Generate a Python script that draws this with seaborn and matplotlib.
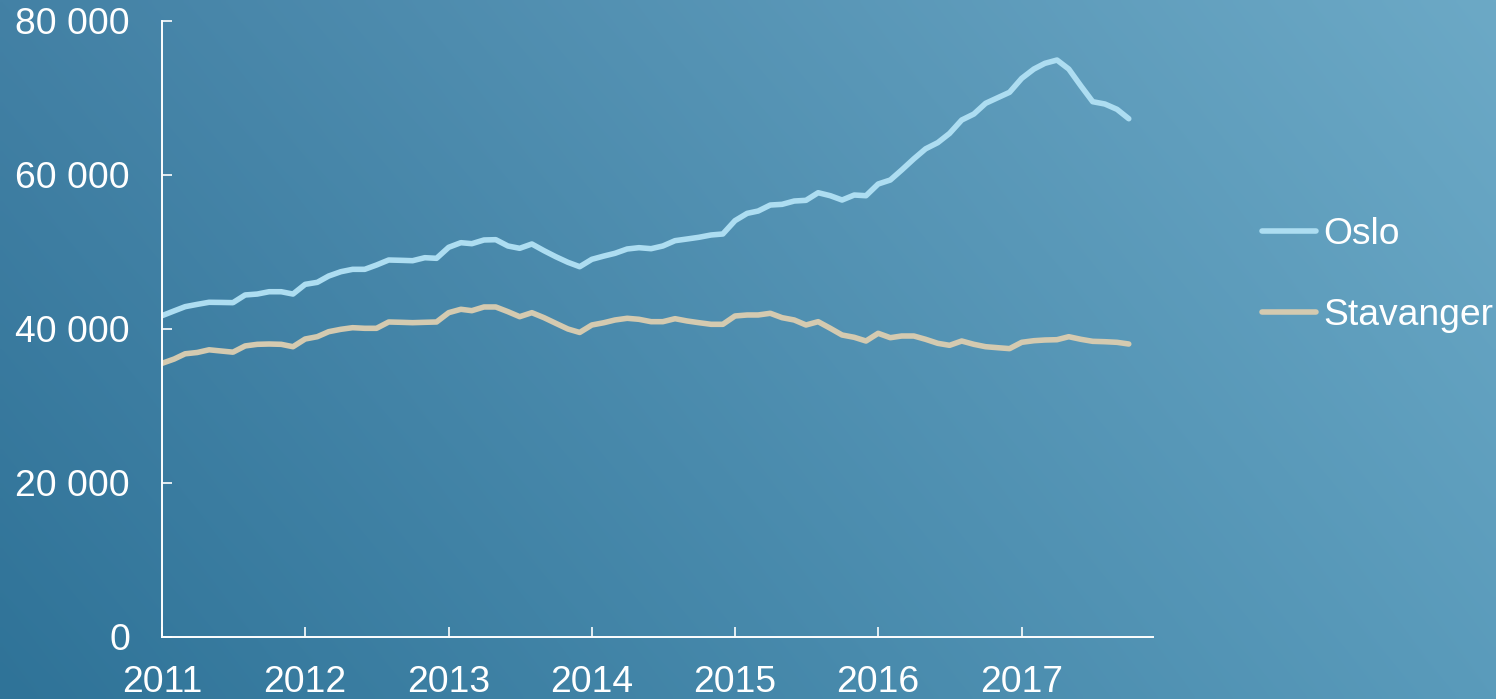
import numpy as np
import pandas as pd
import matplotlib
matplotlib.use("Agg")
import matplotlib.pyplot as plt
import seaborn as sns
from matplotlib.lines import Line2D

# ---- data (monthly, Jan 2011 - Oct 2017) ----
months = pd.date_range("2011-01-01", periods=82, freq="MS")
oslo = [41730, 42350, 42900, 43200, 43470, 43450, 43420, 44420, 44540, 44840, 44840, 44540,
        45800, 46060, 46880, 47440, 47750, 47750, 48310, 48960, 48920, 48870, 49260, 49180,
        50610, 51210, 51080, 51560, 51600, 50780, 50480, 51040, 50170, 49390, 48660, 48090,
        49050, 49480, 49830, 50390, 50560, 50430, 50780, 51470, 51690, 51910, 52210, 52340,
        54070, 55020, 55320, 56100, 56190, 56620, 56710, 57700, 57310, 56750, 57400, 57310,
        58830, 59350, 60650, 62100, 63400, 64200, 65400, 67140, 67920, 69310, 70040, 70740,
        72550, 73760, 74500, 74930, 73760, 71560, 69520, 69220, 68530, 67310]
stavanger = [35540, 36100, 36780, 36950, 37300, 37140, 36990, 37800, 38010, 38050, 38010, 37700,
             38700, 39000, 39650, 39960, 40170, 40090, 40090, 40910, 40870, 40820, 40870, 40910,
             42120, 42560, 42380, 42860, 42860, 42250, 41600, 42120, 41470, 40740, 40000, 39550,
             40520, 40820, 41170, 41390, 41260, 40950, 40950, 41340, 41040, 40820, 40610, 40610,
             41690, 41820, 41820, 42040, 41470, 41170, 40520, 40950, 40090, 39220, 38920, 38440,
             39440, 38870, 39090, 39090, 38660, 38140, 37880, 38440, 38010, 37700, 37570, 37450,
             38270, 38480, 38570, 38610, 39000, 38660, 38400, 38350, 38270, 38050]
series_names = ["Oslo", "Stavanger"]
series_colors = ["#ADDDF1", "#D4CAB0"]
year_ticks = list(range(2011, 2018))
y_ticks = [0, 20000, 40000, 60000, 80000]
y_labels = ["0", "20 000", "40 000", "60 000", "80 000"]

df = pd.DataFrame({
    "month": list(months) * 2,
    "value": oslo + stavanger,
    "series": ["Oslo"] * len(oslo) + ["Stavanger"] * len(stavanger),
})

sns.set_theme(style="white")
plt.rcParams["font.family"] = ["Liberation Sans", "DejaVu Sans"]

W, H = 1496, 699
FS = 26.8
LW = 4.0
fig = plt.figure(figsize=(W / 100, H / 100), dpi=100)

# gradient background
bg = fig.add_axes([0, 0, 1, 1], zorder=-10)
bl = np.array([47, 115, 152]) / 255
br = np.array([90, 155, 187]) / 255
tl = np.array([67, 129, 165]) / 255
tr = np.array([108, 169, 198]) / 255
u = np.linspace(0, 1, 300)[None, :, None]
v = np.linspace(0, 1, 150)[:, None, None]  # 0 top -> 1 bottom
top = tl * (1 - u) + tr * u
bot = bl * (1 - u) + br * u
img = top * (1 - v) + bot * v
bg.imshow(img, aspect="auto", extent=[0, 1, 0, 1], origin="upper", interpolation="bilinear")
bg.set_axis_off()

ax = fig.add_axes([162 / W, 1 - 637 / H, (1152.7 - 162) / W, (637 - 21) / H])
ax.set_facecolor("none")
sns.lineplot(data=df, x="month", y="value", hue="series", hue_order=series_names,
             palette=dict(zip(series_names, series_colors)), linewidth=LW, ax=ax,
             legend=False)
for ln in ax.get_lines():
    ln.set_solid_capstyle("round")
    ln.set_solid_joinstyle("round")

ax.set_xlim(pd.Timestamp("2011-01-01"), pd.Timestamp("2017-12-01"))
ax.set_ylim(0, 80000)
ax.set_xticks([pd.Timestamp(f"{y}-01-01") for y in year_ticks])
ax.set_xticklabels([str(y) for y in year_ticks])
ax.set_yticks(y_ticks)
ax.set_yticklabels(y_labels)
ax.set_xlabel("")
ax.set_ylabel("")
for s in ["top", "right"]:
    ax.spines[s].set_visible(False)
for s in ["left", "bottom"]:
    ax.spines[s].set_color("white")
    ax.spines[s].set_linewidth(1.4)
ax.tick_params(axis="both", bottom=True, left=True, direction="in", length=7.5, width=1.2,
               colors="white", labelsize=FS, labelcolor="white")
ax.tick_params(axis="x", pad=20)
ax.tick_params(axis="y", pad=23)
ax.grid(False)

handles = [Line2D([], [], color=c, linewidth=LW, solid_capstyle="round") for c in series_colors]
leg = fig.legend(handles, series_names, loc="center left",
                 bbox_to_anchor=(1262 / W, 1 - 275 / H), frameon=False,
                 fontsize=FS, handlelength=1.45, handletextpad=0.2, labelspacing=1.22,
                 borderpad=0, borderaxespad=0)
for t in leg.get_texts():
    t.set_color("white")

fig.savefig("out.png", dpi=100)
